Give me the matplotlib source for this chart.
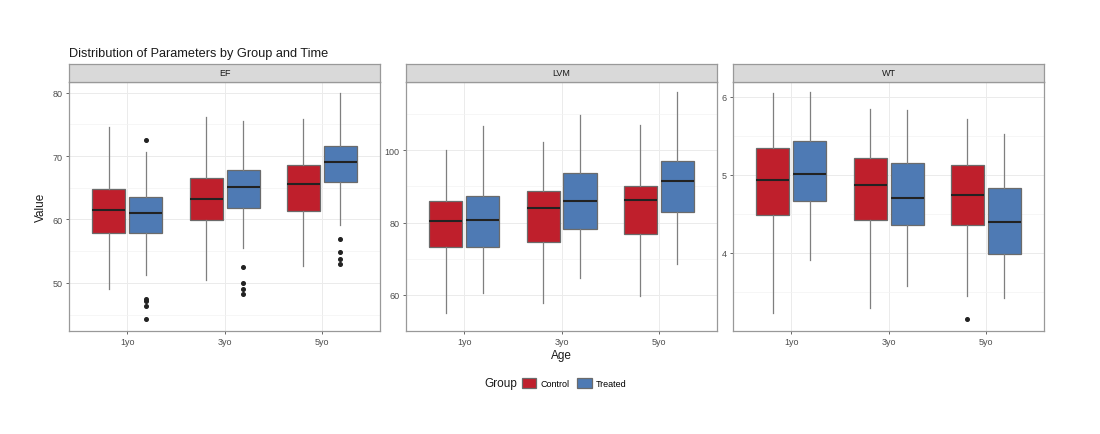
import matplotlib
matplotlib.use('Agg')
import matplotlib.pyplot as plt
from matplotlib.patches import Patch

plt.rcParams['font.family'] = ['Liberation Sans', 'DejaVu Sans']

# Datos
edades = ['1yo', '3yo', '5yo']
grupos = ['Control', 'Treated']
parametros = ['EF', 'LVM', 'WT']

# [bigote_bajo, Q1, mediana, Q3, bigote_alto] por edad
ef_control = [[49.1, 57.8, 61.5, 64.8, 74.6], [50.5, 59.9, 63.2, 66.6, 76.1], [52.6, 61.4, 65.6, 68.6, 75.9]]
ef_treated = [[51.3, 57.8, 61.0, 63.5, 70.6], [55.5, 61.8, 65.1, 67.8, 75.5], [59.1, 65.9, 69.1, 71.6, 80.0]]
ef_out_control = [[], [], []]
ef_out_treated = [[72.6, 47.4, 47.1, 46.3, 44.3], [52.5, 49.9, 49.1, 48.3], [56.9, 54.8, 53.8, 52.9]]

lvm_control = [[55.1, 73.3, 80.4, 86.1, 100.0], [57.8, 74.5, 83.9, 88.6, 102.4], [59.8, 76.8, 86.2, 90.2, 106.9]]
lvm_treated = [[60.6, 73.3, 80.8, 87.3, 106.6], [64.8, 78.3, 86.0, 93.6, 109.7], [68.4, 83.0, 91.6, 97.1, 116.0]]
lvm_out_control = [[], [], []]
lvm_out_treated = [[], [], []]

wt_control = [[3.23, 4.49, 4.94, 5.35, 6.05], [3.30, 4.42, 4.87, 5.21, 5.85], [3.45, 4.36, 4.74, 5.13, 5.72]]
wt_treated = [[3.91, 4.66, 5.01, 5.43, 6.06], [3.58, 4.36, 4.70, 5.15, 5.83], [3.42, 3.99, 4.39, 4.83, 5.52]]
wt_out_control = [[], [], [3.15]]
wt_out_treated = [[], [], []]

datos = {
    'EF': (ef_control, ef_treated, ef_out_control, ef_out_treated),
    'LVM': (lvm_control, lvm_treated, lvm_out_control, lvm_out_treated),
    'WT': (wt_control, wt_treated, wt_out_control, wt_out_treated),
}
limites = {'EF': (42.4, 81.7), 'LVM': (51.9, 118.9), 'WT': (3.0, 6.19)}
ticks = {'EF': [50, 60, 70, 80], 'LVM': [60, 80, 100], 'WT': [4, 5, 6]}
menores = {'EF': [45, 55, 65, 75], 'LVM': [50, 70, 90, 110], 'WT': [3.5, 4.5, 5.5]}

colores = {'Control': '#BF1F2C', 'Treated': '#4E7AB4'}
borde = '#6b6b6b'
gris = '#7f7f7f'

fig = plt.figure(figsize=(11, 4.35), dpi=100)
izq = [0.0627, 0.369, 0.6664]
ancho = 0.283
abajo = 0.2368
alto = 0.5724
alto_tira = 0.0414

for i, p in enumerate(parametros):
    ax = fig.add_axes([izq[i], abajo, ancho, alto])
    ctrl, trat, oc, ot = datos[p]
    for j, (g, st, outs) in enumerate([('Control', ctrl, oc), ('Treated', trat, ot)]):
        desp = -0.19 if j == 0 else 0.19
        stats = []
        for k, s in enumerate(st):
            stats.append({'whislo': s[0], 'q1': s[1], 'med': s[2], 'q3': s[3],
                          'whishi': s[4], 'fliers': outs[k], 'label': edades[k]})
        ax.bxp(stats, positions=[k + 1 + desp for k in range(3)], widths=0.34,
               patch_artist=True, showcaps=False, manage_ticks=False,
               boxprops=dict(facecolor=colores[g], edgecolor=borde, linewidth=0.9),
               whiskerprops=dict(color=gris, linewidth=0.9),
               medianprops=dict(color='#222222', linewidth=1.5),
               flierprops=dict(marker='o', markerfacecolor='#222222', markeredgecolor='#222222',
                               markersize=2.6))
    ax.set_xlim(0.4, 3.6)
    ax.set_ylim(*limites[p])
    ax.set_xticks([1, 2, 3])
    ax.set_xticklabels(edades)
    ax.set_yticks(ticks[p])
    ax.set_yticks(menores[p], minor=True)
    ax.grid(True, which='major', color='#ebebeb', linewidth=0.7)
    ax.grid(True, which='minor', axis='y', color='#f3f3f3', linewidth=0.5)
    ax.set_axisbelow(True)
    ax.tick_params(axis='both', which='major', labelsize=6.5, colors='#4d4d4d',
                   length=2.5, width=0.6, pad=2)
    ax.tick_params(axis='both', which='minor', length=0)
    for sp in ax.spines.values():
        sp.set_color('#999999')
        sp.set_linewidth(0.9)

    # tira del facet
    tira = fig.add_axes([izq[i], abajo + alto, ancho, alto_tira])
    tira.set_xticks([])
    tira.set_yticks([])
    tira.set_facecolor('#d9d9d9')
    for sp in tira.spines.values():
        sp.set_color('#999999')
        sp.set_linewidth(0.9)
    tira.text(0.5, 0.5, p, ha='center', va='center', fontsize=6.5, color='#1a1a1a',
              transform=tira.transAxes)

    if i == 0:
        ax.set_ylabel('Value', fontsize=8.5, color='#1a1a1a', labelpad=4)
    if i == 1:
        ax.set_xlabel('Age', fontsize=8.5, color='#1a1a1a', labelpad=2)

fig.text(0.0627, 0.862, 'Distribution of Parameters by Group and Time', fontsize=9.2,
         color='#1a1a1a', ha='left', va='bottom')

# leyenda: titulo a la izquierda, claves en fila
fig.text(0.440, 0.117, 'Group', fontsize=8.5, color='#1a1a1a', ha='left', va='center')
manejadores = [Patch(facecolor=colores[g], edgecolor=borde, linewidth=0.9, label=g) for g in grupos]
fig.legend(handles=manejadores, loc='center left', bbox_to_anchor=(0.4745, 0.117), ncol=2,
           frameon=False, fontsize=6.5, borderpad=0, borderaxespad=0,
           handlelength=1.6, handleheight=1.2, handletextpad=0.5, columnspacing=0.8)

fig.savefig('out.png', dpi=100)
